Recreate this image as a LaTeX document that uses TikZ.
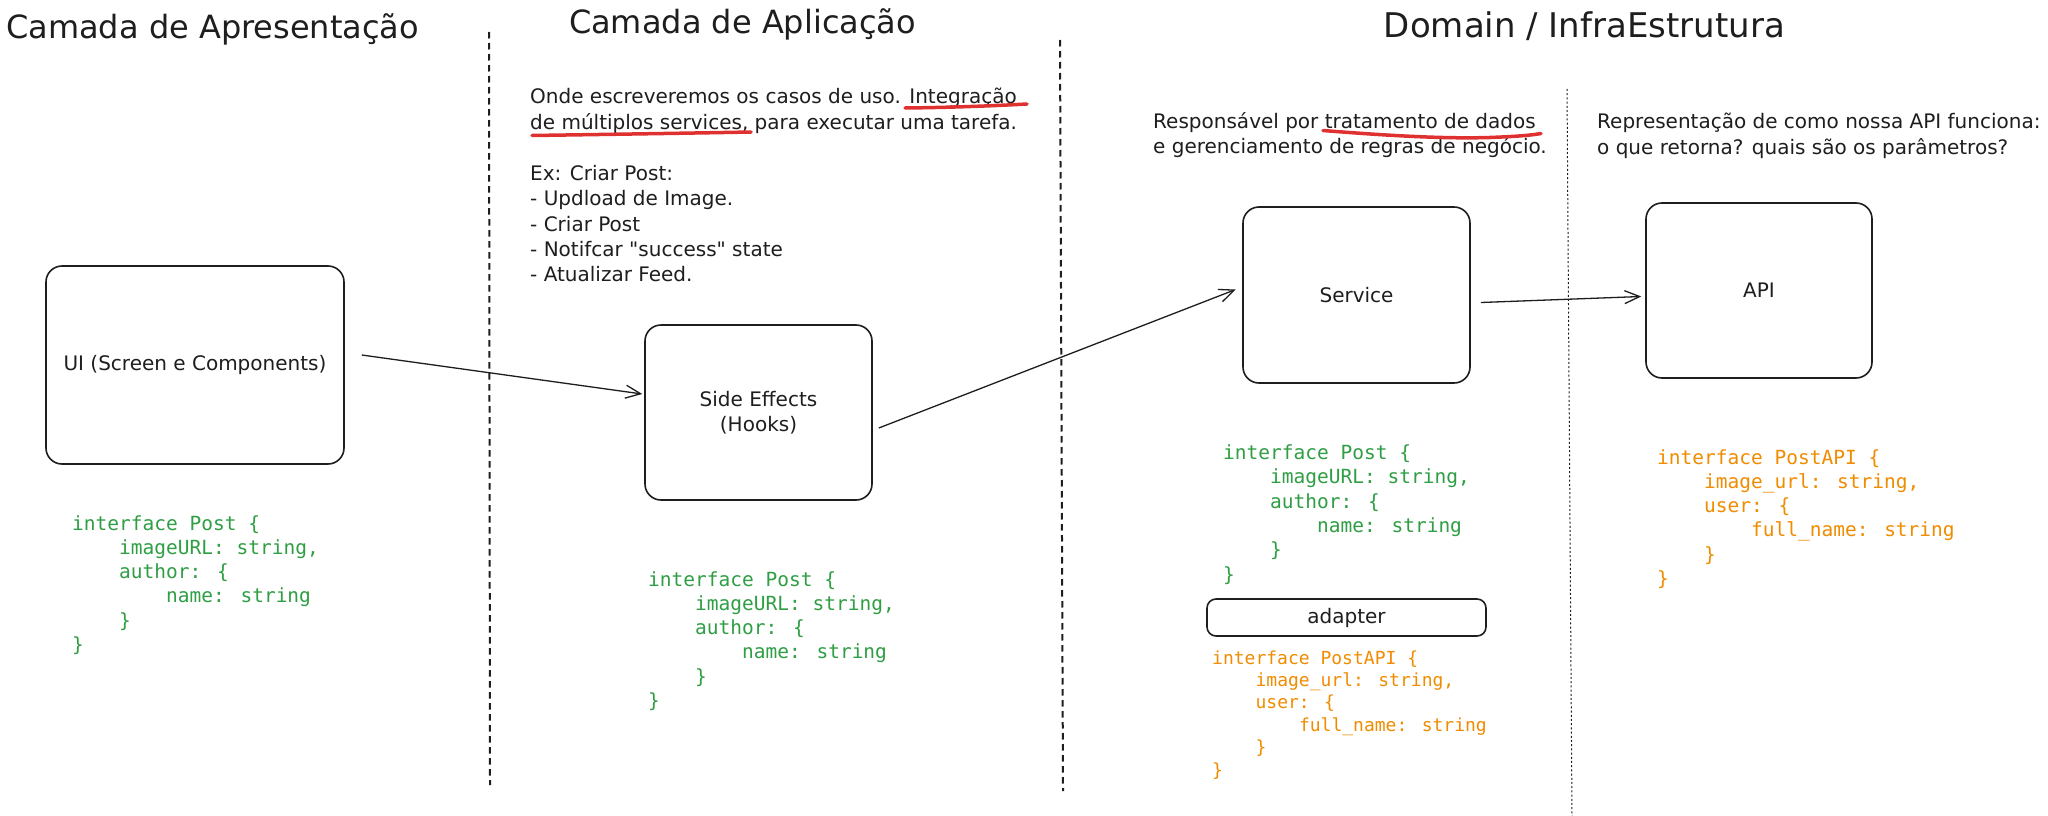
\documentclass[tikz,border=0pt]{standalone}
\usepackage{fontspec}
\setmainfont{DejaVu Sans}
\newfontfamily\codefont{DejaVu Sans Mono}
\usetikzlibrary{arrows.meta}
\definecolor{ink}{HTML}{1E1E1E}
\definecolor{codegreen}{HTML}{2F9E44}
\definecolor{codeorange}{HTML}{F08C00}
\definecolor{redmark}{HTML}{E03131}

% code blocks: #1 name prefix, #2 x, #3 first baseline y, #4 style, #5 indent, #6 line skip
\newcommand\PostCode[6]{%
  \foreach \ind/\txt [count=\i from 0] in {0/{interface Post \{},1/{imageURL: string,},1/{author: \{},2/{name: string},1/{\}},0/{\}}}
    \node[#4, name=#1\i] at (#2+\ind*#5, #3+\i*#6) {\txt};
}
\newcommand\PostApiCode[6]{%
  \foreach \ind/\txt [count=\i from 0] in {0/{interface PostAPI \{},1/{image\_url: string,},1/{user: \{},2/{full\_name: string},1/{\}},0/{\}}}
    \node[#4, name=#1\i] at (#2+\ind*#5, #3+\i*#6) {\txt};
}

\begin{document}
\begin{tikzpicture}[x=1pt,y=-1pt,
  box/.style={draw=ink, line width=1.6pt, rounded corners=16pt, inner sep=0pt, align=center,
              text=ink, font=\fontsize{20}{24.5}\selectfont},
  arr/.style={draw=ink, line width=1.3pt, -{Straight Barb[length=15pt,width=13pt]}},
  body/.style={anchor=base west, inner sep=0pt, text=ink, font=\fontsize{20}{24}\selectfont},
  title/.style={anchor=base, inner sep=0pt, text=ink},
  sepline/.style={draw=ink, line width=2pt, dash pattern=on 6.5pt off 4.5pt},
  sepdot/.style={draw=ink, line width=1pt, dash pattern=on 2pt off 2.2pt},
  redline/.style={draw=redmark, line width=3.5pt, line cap=round},
  codeG/.style={anchor=base west, inner sep=0pt, text=codegreen, font=\codefont\fontsize{19.5}{24}\selectfont},
  codeO/.style={anchor=base west, inner sep=0pt, text=codeorange, font=\codefont\fontsize{19.5}{24}\selectfont},
  codeOs/.style={anchor=base west, inner sep=0pt, text=codeorange, font=\codefont\fontsize{18}{22}\selectfont}
]
\fill[white] (0,0) rectangle (2048,816);
\useasboundingbox (0,0) rectangle (2048,816);

% titles
\node[title, anchor=base west, font=\fontsize{32}{38}\selectfont] (t1) at (6,39) {Camada de Apresentação};
\node[title, font=\fontsize{32}{38}\selectfont] (t2) at (742.5,34) {Camada de Aplicação};
\node[title, font=\fontsize{34}{40}\selectfont] (t3) at (1584.5,38) {Domain / InfraEstrutura};

% separators
\draw[sepline] (489,32) -- (490,785);
\draw[sepline] (1060,40) -- (1063,791);
\draw[sepdot] (1567,89) -- (1572,816);

% application layer text
\node[body] (ap1) at (530,103) {Onde escreveremos os casos de uso. Integração};
\node[body] (ap2) at (530,129) {de múltiplos services, para executar uma tarefa.};
\node[body] (ap3) at (530,180) {Ex: Criar Post:};
\node[body] (ap4) at (530,205) {- Updload de Image.};
\node[body] (ap5) at (530,231) {- Criar Post};
\node[body] (ap6) at (530,256) {- Notifcar \textquotedbl success\textquotedbl\ state};
\node[body] (ap7) at (530,281) {- Atualizar Feed.};

% domain text
\node[body] (dm1) at (1153,128) {Responsável por tratamento de dados};
\node[body] (dm2) at (1153,153) {e gerenciamento de regras de negócio.};

% infra text
\node[body] (in1) at (1597,128) {Representação de como nossa API funciona:};
\node[body] (in2) at (1597,154) {o que retorna? quais são os parâmetros?};

% red underlines
\draw[redline] (905,108) .. controls (950,107.5) and (990,106) .. (1027,104);
\draw[redline] (532,135.5) .. controls (600,134.5) and (700,133) .. (751,132);
\draw[redline] (1323,130.5) .. controls (1380,135) and (1440,139) .. (1490,137.5)
               .. controls (1515,136.5) and (1530,135.5) .. (1541,133.5);

% boxes
\node[box, minimum width=298pt, minimum height=198pt] (ui) at (195,365) {UI (Screen e Components)};
\node[box, minimum width=227pt, minimum height=175pt] (se) at (758.5,412.5) {Side Effects\\(Hooks)};
\node[box, minimum width=227pt, minimum height=176pt] (svc) at (1356.5,295) {Service};
\node[box, minimum width=226pt, minimum height=175pt] (api) at (1759,290.5) {API};
\node[box, rounded corners=9pt, minimum width=279pt, minimum height=37pt] (adp) at (1346.5,617.5) {adapter};

% arrows
\draw[arr] ([xshift=17pt,yshift=10pt]ui.east) -- ([xshift=-2pt,yshift=18.5pt]se.west);
\draw[arr] ([xshift=6pt,yshift=-15.5pt]se.east) -- ([xshift=-6.5pt,yshift=5.5pt]svc.west);
\draw[arr] ([xshift=10pt,yshift=-7.5pt]svc.east) -- ([xshift=-4pt,yshift=-6pt]api.west);

% code blocks
\PostCode{uic}{72}{530}{codeG}{47}{24.3}
\PostCode{sec}{648}{586}{codeG}{47}{24.3}
\PostCode{svcc}{1223}{459.5}{codeG}{47}{24.3}
\PostApiCode{adc}{1212}{664}{codeOs}{43.4}{22.4}
\PostApiCode{apic}{1657}{464}{codeO}{47}{24.3}
\end{tikzpicture}
\end{document}
